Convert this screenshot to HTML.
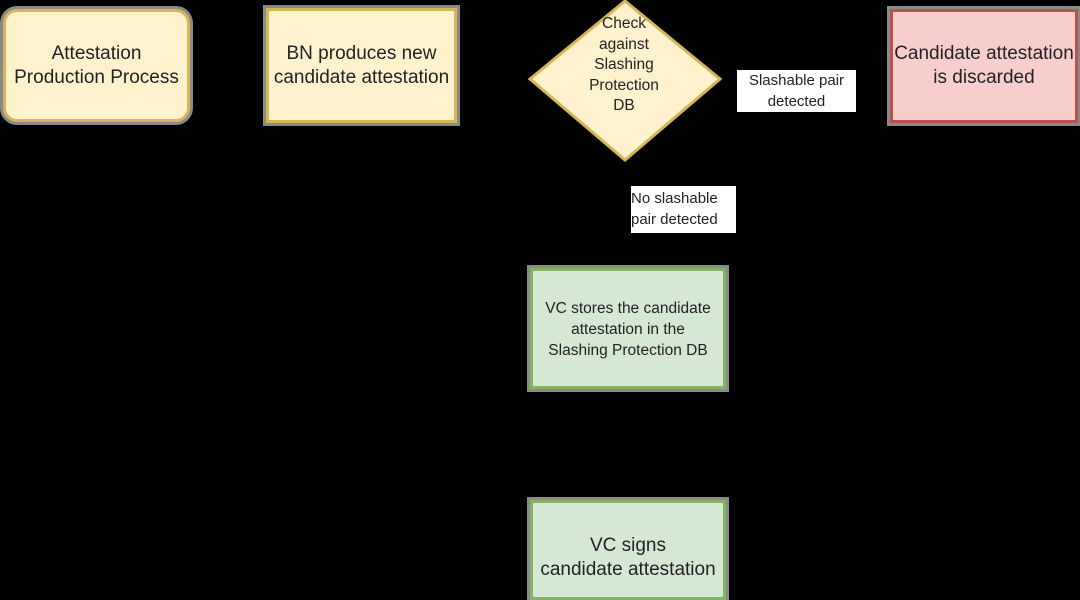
<!DOCTYPE html>
<html><head><style>
body{margin:0;width:1080px;height:585px;background:#000;position:relative;overflow:hidden;font-family:"Liberation Sans",sans-serif;color:#222}
.b{position:absolute;box-sizing:border-box;display:flex;align-items:center;justify-content:center;text-align:center;box-shadow:0 0 0 3px #8a8a8a}
.y{background:#fff2cc;border:3px solid #d6b656}
.g{background:#d5e8d4;border:3px solid #82b366}
.r{background:#f8cecc;border:3px solid #b85450}
.l{position:absolute;background:#fff;font-size:15px;line-height:21px;text-align:center;color:#222}
</style></head><body>
<div class="b y" style="left:3px;top:9px;width:187px;height:113px;border-radius:14px;font-size:19px;line-height:24px">Attestation<br>Production Process</div>
<div class="b y" style="left:266px;top:8px;width:191px;height:115px;font-size:19px;line-height:24px">BN produces new<br>candidate attestation</div>
<svg style="position:absolute;left:526px;top:-2px" width="198" height="166"><polygon points="99,3 194,81 99,162 4,81" fill="#fff2cc" stroke="#d6b656" stroke-width="3"/></svg>
<div class="l" style="left:574px;top:14px;width:100px;background:none;font-size:15.5px;line-height:20.5px">Check<br>against<br>Slashing<br>Protection<br>DB</div>
<div class="b r" style="left:890px;top:9px;width:188px;height:114px;font-size:19px;line-height:24px">Candidate attestation<br>is discarded</div>
<div class="l" style="left:737px;top:70px;width:119px;height:42px">Slashable pair<br>detected</div>
<div class="l" style="left:631px;top:186px;width:105px;height:47px;text-align:left;line-height:21px;padding-top:2px;box-sizing:border-box">No slashable<br>pair detected</div>
<div class="b g" style="left:530px;top:268px;width:196px;height:121px;font-size:15.5px;line-height:21px;padding-top:2px">VC stores the candidate<br>attestation in the<br>Slashing Protection DB</div>
<div class="b g" style="left:530px;top:500px;width:196px;height:100px;font-size:19px;line-height:24px;padding-top:16px">VC signs<br>candidate attestation</div>
</body></html>
